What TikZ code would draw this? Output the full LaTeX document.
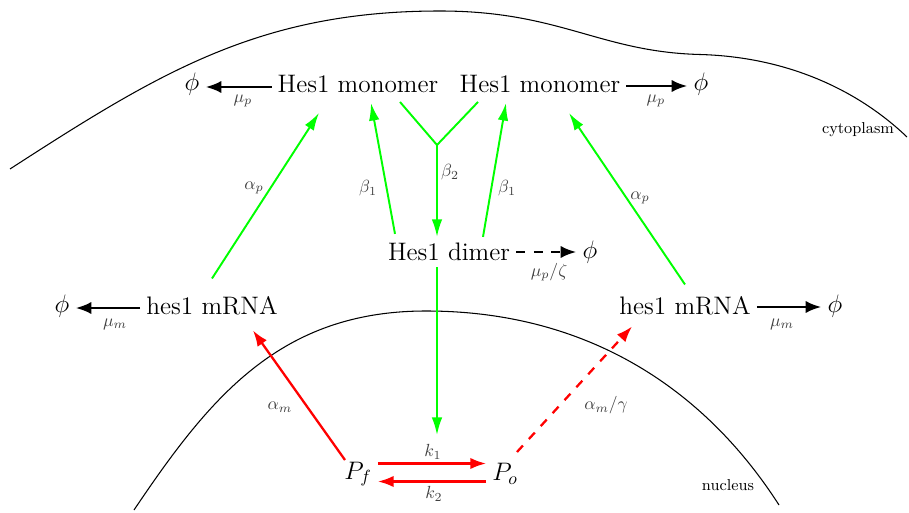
\documentclass[tikz,border=0pt]{standalone}
\usetikzlibrary{arrows.meta,calc}

\begin{document}
\begin{tikzpicture}[
    x=1cm,
    y=1cm,
    >={Latex[length=9pt,width=7pt]},
    font=\Large,
    deg/.style={line width=1.6pt,->},
    degpunt/.style={line width=1.6pt,->,dash pattern=on 5pt off 5pt},
    verde/.style={green,line width=1.1pt,-{Latex[length=10pt,width=6pt]}},
    verdelinea/.style={green,line width=1.1pt},
    rojo/.style={red,line width=1.3pt,-{Latex[length=9pt,width=6.5pt]}},
    rojopunt/.style={rojo,dash pattern=on 5pt off 5pt},
    tasa/.style={font=\normalsize,text=black!75},
    membrana/.style={line width=0.6pt}
]
    \useasboundingbox (0,0) rectangle (18.18,10.24);

    % Membranas
    \draw[membrana] (0.2,6.86) .. controls (3.2,8.8) and (5.2,10.02) .. (8.8,10.02)
        .. controls (11.2,10.02) and (12.0,9.2) .. (14.0,9.15)
        .. controls (15.8,9.1) and (17.2,8.4) .. (18.14,7.5);
    \draw[membrana] (2.68,0.04) .. controls (4.2,2.3) and (5.6,4.02) .. (8.52,4.02)
        .. controls (11.6,4.02) and (14.0,2.6) .. (15.58,0.14);
    \node[font=\small] (cito) at (17.16,7.64) {cytoplasm};
    \node[font=\small] (nucleo) at (14.56,0.54) {nucleus};

    % Especies
    \node (monoL) at (7.16,8.56) {Hes1 monomer};
    \node (monoR) at (10.8,8.56) {Hes1 monomer};
    \node (phiTL) at (3.84,8.56) {$\phi$};
    \node (phiTR) at (14.02,8.56) {$\phi$};
    \node (dimer) at (8.98,5.2) {Hes1 dimer};
    \node (phiD) at (11.8,5.2) {$\phi$};
    \node (mrnaL) at (4.24,4.12) {hes1 mRNA};
    \node (phiL) at (1.24,4.12) {$\phi$};
    \node (mrnaR) at (13.7,4.12) {hes1 mRNA};
    \node (phiR) at (16.7,4.12) {$\phi$};
    \node (Pf) at (7.16,0.76) {$P_f$};
    \node (Po) at (10.1,0.76) {$P_o$};
    \coordinate (join) at (8.74,7.34);
    \coordinate (gen) at (8.74,1.54);

    % Degradacion
    \draw[deg] ([yshift=-0.06cm]monoL.west) -- ([yshift=-0.06cm]phiTL.east);
    \draw[deg] ([yshift=-0.04cm]monoR.east) -- ([yshift=-0.04cm]phiTR.west);
    \draw[degpunt] (dimer.east) -- (phiD.west);
    \draw[deg] ([yshift=-0.04cm]mrnaL.west) -- ([yshift=-0.04cm]phiL.east);
    \draw[deg] ([yshift=-0.02cm]mrnaR.east) -- ([yshift=-0.02cm]phiR.west);
    \node[tasa] (mpl) at (4.86,8.22) {$\mu_p$};
    \node[tasa] (mpr) at (13.12,8.22) {$\mu_p$};
    \node[tasa] (mpz) at (10.98,4.8) {$\mu_p/\zeta$};
    \node[tasa] (mml) at (2.3,3.76) {$\mu_m$};
    \node[tasa] (mmr) at (15.64,3.76) {$\mu_m$};

    % Traduccion y dimerizacion
    \draw[verde] ($(mrnaL.north)+(0,0.24)$) -- ($(monoL.south)+(-0.78,-0.28)$);
    \draw[verde] ($(mrnaR.north)+(0,0.12)$) -- ($(monoR.south)+(0.58,-0.28)$);
    \draw[verde] ($(dimer.north)+(-1.08,0.06)$) -- ($(monoL.south)+(0.26,-0.08)$);
    \draw[verde] ($(dimer.north)+(0.68,0)$) -- ($(monoR.south)+(-0.68,-0.08)$);
    \draw[verdelinea] ($(monoL.south)+(0.84,-0.06)$) -- (join)
        -- ($(monoR.south)+(-1.24,-0.06)$);
    \draw[verde] (join) -- (join |- dimer.north);
    \draw[verde] (join |- dimer.south) -- (gen);
    \node[tasa] (apl) at (5.08,6.48) {$\alpha_p$};
    \node[tasa] (apr) at (12.8,6.28) {$\alpha_p$};
    \node[tasa] (b1l) at (7.36,6.48) {$\beta_1$};
    \node[tasa] (b1r) at (10.14,6.48) {$\beta_1$};
    \node[tasa] (b2) at (9.0,6.8) {$\beta_2$};

    % Promotor y transcripcion
    \draw[rojo] ([yshift=0.21cm]Pf.east) -- ([yshift=0.21cm]Po.west);
    \draw[rojo] ([yshift=-0.15cm]Po.west) -- ([yshift=-0.15cm]Pf.east);
    \node[tasa] (k1) at (8.66,1.2) {$k_1$};
    \node[tasa] (k2) at (8.68,0.36) {$k_2$};
    \draw[rojo] ($(Pf)+(-0.26,0.28)$) -- ($(mrnaL.south)+(0.82,-0.18)$);
    \draw[rojopunt] ($(Po)+(0.24,0.44)$) -- ($(mrnaR.south)+(-1.06,-0.1)$);
    \node[tasa] (aml) at (5.6,2.1) {$\alpha_m$};
    \node[tasa] (amr) at (12.12,2.14) {$\alpha_m/\gamma$};
\end{tikzpicture}
\end{document}
